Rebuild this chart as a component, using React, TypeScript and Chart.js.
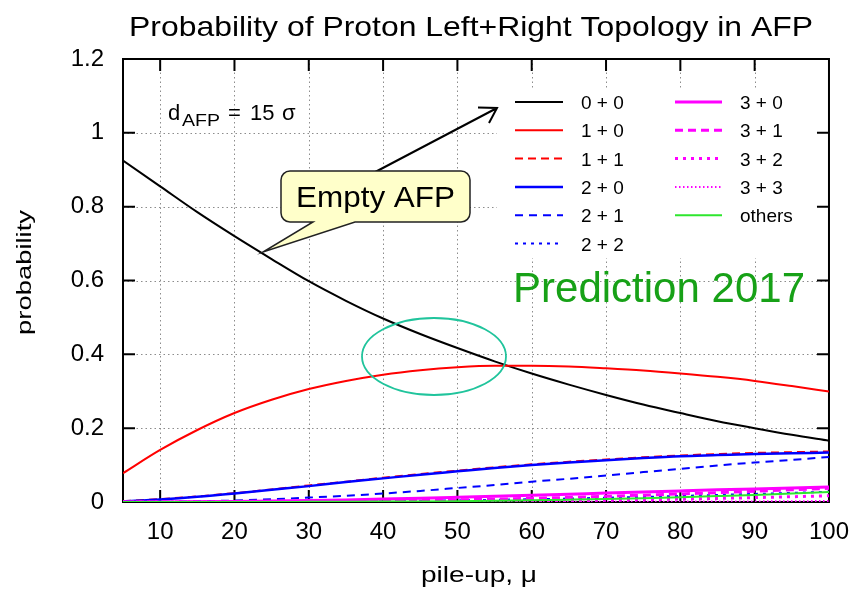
import React, { useEffect, useRef } from 'react';
import { Chart, registerables } from 'chart.js';

Chart.register(...registerables);

// ---------- data ----------
const MU = [5, 10, 15, 20, 25, 30, 35, 40, 45, 50, 55, 60, 65, 70, 75, 80, 85, 90, 95, 100];

const P_0_0 = [0.925, 0.855, 0.785, 0.72, 0.658, 0.598, 0.545, 0.497, 0.455, 0.417, 0.381, 0.348, 0.318, 0.29, 0.264, 0.241, 0.219, 0.2, 0.182, 0.166];
const P_1_0 = [0.078, 0.141, 0.195, 0.241, 0.277, 0.306, 0.328, 0.345, 0.357, 0.365, 0.369, 0.369, 0.367, 0.362, 0.356, 0.348, 0.339, 0.328, 0.314, 0.299];
const P_1_1 = [0.002, 0.008, 0.015, 0.024, 0.034, 0.045, 0.055, 0.066, 0.076, 0.085, 0.094, 0.102, 0.109, 0.115, 0.121, 0.126, 0.13, 0.133, 0.135, 0.137];
const P_2_0 = [0.002, 0.007, 0.014, 0.023, 0.033, 0.043, 0.054, 0.064, 0.074, 0.083, 0.092, 0.1, 0.107, 0.113, 0.119, 0.124, 0.127, 0.13, 0.132, 0.134];
const P_2_1 = [0.0001, 0.0006, 0.002, 0.004, 0.0075, 0.012, 0.017, 0.023, 0.03, 0.038, 0.046, 0.055, 0.063, 0.072, 0.081, 0.09, 0.099, 0.107, 0.114, 0.122];
const P_2_2 = [0, 0, 0.0001, 0.0002, 0.0004, 0.0008, 0.0014, 0.0021, 0.0031, 0.0043, 0.0058, 0.0074, 0.0094, 0.0115, 0.0138, 0.0164, 0.0191, 0.0218, 0.0247, 0.0278];
const P_3_0 = [0, 0.0002, 0.0006, 0.0014, 0.0025, 0.0039, 0.0057, 0.0078, 0.0101, 0.0127, 0.0154, 0.0182, 0.0211, 0.0241, 0.027, 0.03, 0.0329, 0.0355, 0.0381, 0.0407];
const P_3_1 = [0, 0, 0.0001, 0.0003, 0.0006, 0.0011, 0.0018, 0.0028, 0.0041, 0.0058, 0.0077, 0.0099, 0.0125, 0.0154, 0.0184, 0.0218, 0.0254, 0.0291, 0.033, 0.037];
const P_3_2 = [0, 0, 0, 0, 0.0001, 0.0002, 0.0003, 0.0005, 0.0008, 0.0013, 0.0019, 0.0027, 0.0037, 0.0049, 0.0063, 0.0079, 0.0098, 0.0119, 0.0143, 0.0168];
const P_3_3 = [0, 0, 0, 0, 0, 0, 0, 0, 0, 0.0001, 0.0002, 0.0003, 0.0004, 0.0005, 0.0007, 0.001, 0.0013, 0.0016, 0.0021, 0.0026];
const P_OTHERS = [0, 0, 0, 0, 0.0001, 0.0004, 0.0007, 0.0011, 0.0016, 0.0023, 0.0034, 0.0048, 0.0064, 0.0082, 0.0104, 0.013, 0.016, 0.0192, 0.0229, 0.0271];

const SERIES_LABELS = ['0 + 0', '1 + 0', '1 + 1', '2 + 0', '2 + 1', '2 + 2', '3 + 0', '3 + 1', '3 + 2', '3 + 3', 'others'];
const SERIES_VALUES = [P_0_0, P_1_0, P_1_1, P_2_0, P_2_1, P_2_2, P_3_0, P_3_1, P_3_2, P_3_3, P_OTHERS];

const X_TICKS = [10, 20, 30, 40, 50, 60, 70, 80, 90, 100];
const Y_TICKS = [0, 0.2, 0.4, 0.6, 0.8, 1, 1.2];

const TITLE = 'Probability of Proton Left+Right Topology in AFP';
const X_TITLE = 'pile-up, \u03bc';
const Y_TITLE = 'probability';
const CALLOUT_TEXT = 'Empty AFP';
const PREDICTION_TEXT = 'Prediction 2017';

// ---------- styles ----------
const SERIES_STYLES = [
  { color: '#000000', width: 2, dash: [] as number[] },
  { color: '#ff0000', width: 2, dash: [] },
  { color: '#ff0000', width: 2, dash: [8, 5] },
  { color: '#0000ff', width: 2.5, dash: [] },
  { color: '#0000ff', width: 2, dash: [8, 6] },
  { color: '#0000ff', width: 2, dash: [3, 5] },
  { color: '#ff00ff', width: 3, dash: [] },
  { color: '#ff00ff', width: 3, dash: [8, 5] },
  { color: '#ff00ff', width: 3, dash: [3, 5] },
  { color: '#ff00ff', width: 2, dash: [1.5, 2.5] },
  { color: '#2ee62e', width: 2, dash: [] },
];

const FONT = '"Liberation Sans", Arial, Helvetica, sans-serif';

function fitText(ctx: CanvasRenderingContext2D, text: string, x: number, y: number, w: number, size: number) {
  ctx.font = `${size}px ${FONT}`;
  const m = ctx.measureText(text).width;
  const s = w / m;
  ctx.save();
  ctx.translate(x, y);
  ctx.scale(s, 1);
  ctx.textAlign = 'left';
  ctx.textBaseline = 'alphabetic';
  ctx.fillText(text, 0, 0);
  ctx.restore();
}

const decorPlugin = {
  id: 'decor',
  beforeDatasetsDraw(chart: any) {
    const { ctx, chartArea, scales } = chart;
    const { left, right, top, bottom } = chartArea;
    const xs = scales.x;
    const ys = scales.y;
    ctx.save();
    // grid
    ctx.strokeStyle = '#8c8c8c';
    ctx.lineWidth = 1;
    ctx.setLineDash([1.5, 3]);
    for (const v of X_TICKS) {
      if (v <= xs.min || v >= xs.max) continue;
      const px = Math.round(xs.getPixelForValue(v)) + 0.5;
      ctx.beginPath();
      ctx.moveTo(px, top);
      ctx.lineTo(px, bottom);
      ctx.stroke();
    }
    for (const v of Y_TICKS) {
      if (v <= ys.min || v >= ys.max) continue;
      const py = Math.round(ys.getPixelForValue(v)) + 0.5;
      ctx.beginPath();
      ctx.moveTo(left, py);
      ctx.lineTo(right, py);
      ctx.stroke();
    }
    ctx.setLineDash([]);
    // legend background (blanks the grid)
    ctx.fillStyle = '#ffffff';
    ctx.fillRect(497, 88, right - 498, 170);
    // frame
    ctx.strokeStyle = '#000';
    ctx.lineWidth = 2;
    ctx.strokeRect(left, top, right - left, bottom - top);
    // inward ticks
    const tl = 12;
    ctx.beginPath();
    for (const v of X_TICKS) {
      if (v <= xs.min || v >= xs.max) continue;
      const px = xs.getPixelForValue(v);
      ctx.moveTo(px, bottom);
      ctx.lineTo(px, bottom - tl);
      ctx.moveTo(px, top);
      ctx.lineTo(px, top + tl);
    }
    for (const v of Y_TICKS) {
      if (v <= ys.min || v >= ys.max) continue;
      const py = ys.getPixelForValue(v);
      ctx.moveTo(left, py);
      ctx.lineTo(left + tl, py);
      ctx.moveTo(right, py);
      ctx.lineTo(right - tl, py);
    }
    ctx.stroke();
    ctx.restore();
  },
  afterDatasetsDraw(chart: any) {
    const { ctx } = chart;
    ctx.save();
    ctx.fillStyle = '#000';

    // title
    fitText(ctx, TITLE, 129, 36, 684, 28);
    // axis titles
    fitText(ctx, X_TITLE, 421, 582, 116, 22);
    ctx.save();
    ctx.translate(31, 272.5);
    ctx.rotate(-Math.PI / 2);
    ctx.font = `20px ${FONT}`;
    const yw = ctx.measureText(Y_TITLE).width;
    ctx.scale(125 / yw, 1);
    ctx.textAlign = 'center';
    ctx.textBaseline = 'alphabetic';
    ctx.fillText(Y_TITLE, 0, 0);
    ctx.restore();

    // legend
    ctx.textAlign = 'left';
    ctx.textBaseline = 'alphabetic';
    ctx.font = `19px ${FONT}`;
    SERIES_LABELS.forEach((lab, i) => {
      const col = i < 6 ? 0 : 1;
      const row = i < 6 ? i : i - 6;
      const yy = 102 + 28.3 * row;
      const x0 = col === 0 ? 515 : 675;
      const x1 = col === 0 ? 563 : 722;
      const tx = col === 0 ? 581 : 740;
      const st = SERIES_STYLES[i];
      ctx.strokeStyle = st.color;
      ctx.lineWidth = st.width;
      ctx.setLineDash(st.dash);
      ctx.beginPath();
      ctx.moveTo(x0, yy);
      ctx.lineTo(x1, yy);
      ctx.stroke();
      ctx.setLineDash([]);
      ctx.fillStyle = '#000';
      ctx.fillText(lab, tx, yy + 7);
    });

    // d_AFP = 15 sigma
    ctx.fillStyle = '#000';
    ctx.font = `22px ${FONT}`;
    ctx.fillText('d', 168, 120);
    fitText(ctx, 'AFP', 182, 126, 38, 16);
    ctx.font = `22px ${FONT}`;
    ctx.fillText('=', 228, 120);
    ctx.fillText('15', 250, 120);
    ctx.fillText('\u03c3', 282, 120);

    // arrow
    ctx.strokeStyle = '#000';
    ctx.lineWidth = 2;
    ctx.beginPath();
    ctx.moveTo(360, 180);
    ctx.lineTo(497, 108);
    ctx.moveTo(478, 107.5);
    ctx.lineTo(497, 108);
    ctx.lineTo(489, 123);
    ctx.stroke();

    // callout
    const L = 281, T = 171, R = 470, B = 222, r = 9;
    ctx.beginPath();
    ctx.moveTo(L + r, T);
    ctx.lineTo(R - r, T);
    ctx.arcTo(R, T, R, T + r, r);
    ctx.lineTo(R, B - r);
    ctx.arcTo(R, B, R - r, B, r);
    ctx.lineTo(355, B);
    ctx.lineTo(263, 252);
    ctx.lineTo(313, B);
    ctx.lineTo(L + r, B);
    ctx.arcTo(L, B, L, B - r, r);
    ctx.lineTo(L, T + r);
    ctx.arcTo(L, T, L + r, T, r);
    ctx.closePath();
    ctx.fillStyle = '#ffffca';
    ctx.fill();
    ctx.strokeStyle = '#222';
    ctx.lineWidth = 1.5;
    ctx.stroke();
    ctx.fillStyle = '#000';
    fitText(ctx, CALLOUT_TEXT, 296, 207, 159, 30);

    // ellipse
    ctx.strokeStyle = '#20c49c';
    ctx.lineWidth = 1.8;
    ctx.beginPath();
    ctx.ellipse(434, 356.5, 72, 38.5, 0, 0, Math.PI * 2);
    ctx.stroke();

    // prediction
    ctx.fillStyle = '#17a117';
    fitText(ctx, PREDICTION_TEXT, 513, 301.5, 292, 42);

    ctx.restore();
  },
};

export default function App() {
  const ref = useRef<HTMLCanvasElement | null>(null);
  useEffect(() => {
    if (!ref.current) return;
    const n = SERIES_VALUES.length;
    const chart = new Chart(ref.current, {
      type: 'line',
      data: {
        datasets: SERIES_VALUES.map((vals, i) => ({
          label: SERIES_LABELS[i],
          data: MU.map((m, k) => ({ x: m, y: vals[k] })),
          borderColor: SERIES_STYLES[i].color,
          borderWidth: SERIES_STYLES[i].width,
          borderDash: SERIES_STYLES[i].dash,
          pointRadius: 0,
          fill: false,
          cubicInterpolationMode: 'monotone' as const,
          order: n - i,
        })),
      },
      options: {
        responsive: false,
        animation: false,
        events: [],
        layout: { padding: { left: 0, top: 59, right: 32, bottom: 0 } },
        plugins: { legend: { display: false }, title: { display: false }, tooltip: { enabled: false } },
        scales: {
          x: {
            type: 'linear',
            min: 5,
            max: 100,
            afterBuildTicks: (s: any) => { s.ticks = X_TICKS.map((v) => ({ value: v })); },
            afterFit: (s: any) => { s.height = 87; },
            ticks: {
              autoSkip: false,
              maxRotation: 0,
              padding: 16,
              color: '#000',
              font: { family: FONT, size: 24 },
              callback: (v: any) => String(v),
            },
            grid: { display: false, drawTicks: false, tickLength: 0 },
            border: { display: false },
          },
          y: {
            type: 'linear',
            min: 0,
            max: 1.2,
            afterBuildTicks: (s: any) => { s.ticks = Y_TICKS.map((v) => ({ value: v })); },
            afterFit: (s: any) => { s.width = 123; },
            ticks: {
              padding: 19,
              color: '#000',
              font: { family: FONT, size: 24 },
              callback: (v: any) => String(Number(Number(v).toFixed(1))),
            },
            grid: { display: false, drawTicks: false, tickLength: 0 },
            border: { display: false },
          },
        },
      },
      plugins: [decorPlugin],
    });
    return () => chart.destroy();
  }, []);
  return (
    <div style={{ position: 'absolute', left: 0, top: 0, width: 865, height: 589, background: '#fff' }}>
      <canvas ref={ref} width={865} height={589} style={{ display: 'block', width: 865, height: 589 }} />
    </div>
  );
}
